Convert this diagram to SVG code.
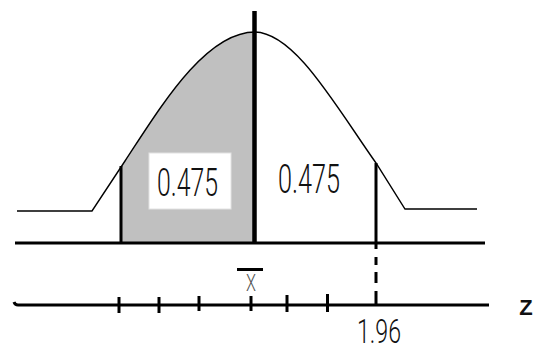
<svg xmlns="http://www.w3.org/2000/svg" width="544" height="351" viewBox="0 0 544 351">
<style>
.axis{stroke:#000;stroke-width:3;fill:none}
.curve{stroke:#000;stroke-width:1.4;fill:none}
.tick{stroke:#000;stroke-width:3}
.lbl{font-family:Roboto,"Liberation Sans",Arial,sans-serif;font-weight:300;fill:#111}
</style>
<rect width="544" height="351" fill="#fff"/>
<g id="shaded-area">
<path d="M121,167 L125,161 C160,108 205,32 255,32 L255,243 L121,243 Z" fill="#c0c0c0"/>
</g>
<g id="curve">
<path class="curve" d="M17,211 L92,211 L125,161 C160,108 205,32 255,32 C295,33 335,105 376,163 L405,209 L477,209"/>
</g>
<g id="box-left">
<rect x="149" y="153" width="82" height="56" fill="#fff" stroke="#e2e2e2" stroke-width="1"/>
<text class="lbl" x="157" y="196" font-size="39" textLength="61" lengthAdjust="spacingAndGlyphs">0.475</text>
</g>
<g id="label-right">
<text class="lbl" x="278" y="193" font-size="41" textLength="62" lengthAdjust="spacingAndGlyphs">0.475</text>
</g>
<g id="connectors">
<line class="axis" x1="121" y1="166" x2="121" y2="243"/>
<line x1="254.5" y1="11" x2="254.5" y2="243" stroke="#000" stroke-width="4.5"/>
<line class="axis" x1="376" y1="163" x2="376" y2="243"/>
<line class="axis" x1="15" y1="243" x2="485" y2="243"/>
<line class="axis" x1="376" y1="243" x2="376" y2="305" stroke-dasharray="6 8 8 7 11 8 14"/>
<path class="axis" d="M14,302 Q15,305 18,305 L489,305"/>
<line class="tick" x1="119" y1="297" x2="119" y2="313"/>
<line class="tick" x1="159" y1="297" x2="159" y2="313"/>
<line class="tick" x1="199" y1="296" x2="199" y2="311"/>
<line class="tick" x1="251" y1="296" x2="251" y2="311"/>
<line class="tick" x1="287" y1="295" x2="287" y2="312"/>
<line class="tick" x1="327.5" y1="294" x2="327.5" y2="312"/>
</g>
<g id="xbar">
<line x1="237" y1="269.5" x2="263" y2="269.5" stroke="#000" stroke-width="3"/>
<text class="lbl" x="251" y="291" font-size="24" text-anchor="middle" style="fill:#555" textLength="10" lengthAdjust="spacingAndGlyphs">X</text>
</g>
<g id="z-label">
<text x="526" y="315" font-family="Liberation Sans, Arial, sans-serif" font-size="22" font-weight="bold" text-anchor="middle" fill="#111">Z</text>
</g>
<g id="val-196">
<text class="lbl" x="357" y="343" font-size="34" textLength="44" lengthAdjust="spacingAndGlyphs">1.96</text>
</g>
</svg>
